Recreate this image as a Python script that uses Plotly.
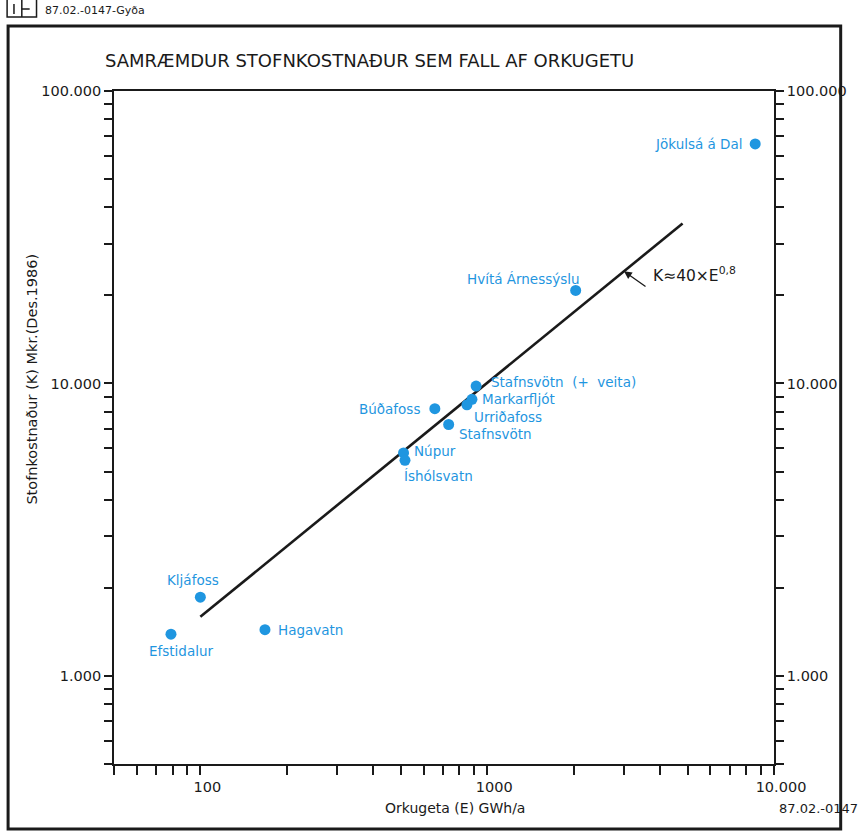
import numpy as np
import plotly.graph_objects as go

# Hydro power sites: annual energy (GWh/a) and capital cost (Mkr, Dec. 1986)
sites = ["Jökulsá á Dal", "Hvítá Árnessýslu", "Stafnsvötn\u00a0 (+\u00a0 veita)", "Markarfljót",
         "Urriðafoss", "Búðafoss", "Stafnsvötn", "Núpur", "Íshólsvatn",
         "Kljáfoss", "Efstidalur", "Hagavatn"]
energy_gwh = [8600, 2035, 915, 885, 850, 657, 734, 511, 517, 100, 79, 168]
cost_mkr = [65900, 20800, 9800, 8830, 8450, 8200, 7240, 5790, 5460, 1860, 1390, 1440]

# Fitted relation K ≈ 40 × E^0.8, drawn between these energies
fit_coef = 40
fit_exp = 0.8
fit_energy_range = [100, 4800]
arrow_energy = 3000

# Tick labels
x_ticks = [50, 60, 70, 80, 90, 100, 200, 300, 400, 500, 600, 700, 800, 900,
           1000, 2000, 3000, 4000, 5000, 6000, 7000, 8000, 9000, 10000]
x_labels = {100: "100", 1000: "1000", 10000: "10.000"}
y_ticks = [500, 600, 700, 800, 900, 1000, 2000, 3000, 4000, 5000, 6000, 7000, 8000, 9000,
           10000, 20000, 30000, 40000, 50000, 60000, 70000, 80000, 90000, 100000]
y_labels = {1000: "1.000", 10000: "10.000", 100000: "100.000"}

# Label placement relative to each dot (pixels) and anchor side
label_dx = [-10, 6, 13, 8, 5, -13, 8, 8, -3, -7, 11, 11]
label_dy = [0, 11, 4, 0, -12, 0, -9, 2, -16, 17, -17, 0]
label_anchor = ["right", "right", "left", "left", "left", "right", "left", "left",
                "left", "center", "center", "left"]

FONT = "DejaVu Sans"
BLUE = "#1f96e0"
INK = "#1a1a1a"

L, R, T, B = 114, 72, 91, 69
W, H = 859, 833
pw, ph = W - L - R, H - T - B


def px_x(px):
    return (px - L) / pw


def px_y(py):
    return (H - B - py) / ph


fig = go.Figure()

fit_e = np.logspace(np.log10(fit_energy_range[0]), np.log10(fit_energy_range[1]), 60)
fit_k = fit_coef * fit_e ** fit_exp
fig.add_trace(go.Scatter(x=fit_e, y=fit_k, mode="lines",
                         line=dict(color=INK, width=2.6), hoverinfo="skip"))

fig.add_trace(go.Scatter(x=energy_gwh, y=cost_mkr, mode="markers",
                         marker=dict(color=BLUE, size=11, line=dict(width=0)),
                         text=sites, hoverinfo="text"))

# right-hand axis carries the same scale
fig.add_trace(go.Scatter(x=[energy_gwh[0]], y=[cost_mkr[0]], yaxis="y2",
                         mode="markers", marker=dict(opacity=0), hoverinfo="skip"))

annotations = []
for name, e, k, dx, dy, anc in zip(sites, energy_gwh, cost_mkr, label_dx, label_dy, label_anchor):
    annotations.append(dict(x=np.log10(e), y=np.log10(k), xref="x", yref="y",
                            text=name, showarrow=False, xanchor=anc, yanchor="middle",
                            xshift=dx, yshift=dy,
                            font=dict(family=FONT, size=13.5, color=BLUE)))

k_arrow = fit_coef * arrow_energy ** fit_exp
annotations.append(dict(x=np.log10(arrow_energy), y=np.log10(k_arrow), xref="x", yref="y",
                        text=" ", showarrow=True, ax=24, ay=17, arrowhead=2, arrowsize=1.2,
                        arrowwidth=1.3, arrowcolor=INK, font=dict(size=8)))
annotations.append(dict(x=np.log10(arrow_energy), y=np.log10(k_arrow), xref="x", yref="y",
                        text="K≈40×E<sup>0,8</sup>", showarrow=False, xanchor="left",
                        yanchor="middle", xshift=27, yshift=-3,
                        font=dict(family=FONT, size=15.5, color=INK)))

annotations += [
    dict(x=px_x(103), y=px_y(61), xref="paper", yref="paper",
         text="SAMRÆMDUR STOFNKOSTNAÐUR SEM FALL AF ORKUGETU", showarrow=False,
         xanchor="left", yanchor="middle", font=dict(family=FONT, size=18, color=INK)),
    dict(x=px_x(462), y=px_y(808), xref="paper", yref="paper",
         text="Orkugeta (E) GWh/a", showarrow=False, xanchor="center", yanchor="middle",
         font=dict(family=FONT, size=14, color=INK)),
    dict(x=px_x(30), y=px_y(379), xref="paper", yref="paper",
         text="Stofnkostnaður (K) Mkr.(Des.1986)", showarrow=False, textangle=-90,
         xanchor="center", yanchor="middle", font=dict(family=FONT, size=14.5, color=INK)),
    dict(x=px_x(790), y=px_y(808), xref="paper", yref="paper",
         text="87.02.-0147", showarrow=False, xanchor="left", yanchor="middle",
         font=dict(family=FONT, size=13, color=INK)),
    dict(x=px_x(42), y=px_y(11), xref="paper", yref="paper",
         text="87.02.-0147-Gyða", showarrow=False, xanchor="left", yanchor="middle",
         font=dict(family=FONT, size=11, color=INK)),
]

shapes = [
    # outer drawing frame
    dict(type="rect", xref="paper", yref="paper",
         x0=px_x(6), x1=px_x(855), y0=px_y(829), y1=px_y(26),
         line=dict(color=INK, width=3)),
    # small logo box in the header
    dict(type="rect", xref="paper", yref="paper",
         x0=px_x(5), x1=px_x(35), y0=px_y(17), y1=px_y(-2),
         line=dict(color=INK, width=1.5)),
    dict(type="line", xref="paper", yref="paper",
         x0=px_x(20), x1=px_x(20), y0=px_y(17), y1=px_y(-2),
         line=dict(color=INK, width=1.5)),
    dict(type="line", xref="paper", yref="paper",
         x0=px_x(12), x1=px_x(12), y0=px_y(14), y1=px_y(4),
         line=dict(color=INK, width=1.5)),
    dict(type="line", xref="paper", yref="paper",
         x0=px_x(20), x1=px_x(28), y0=px_y(9), y1=px_y(9),
         line=dict(color=INK, width=1.5)),
]

axis_common = dict(type="log", showline=True, linecolor=INK, linewidth=1.8,
                   ticks="outside", ticklen=8, tickwidth=1.5, tickcolor=INK,
                   showgrid=False, zeroline=False,
                   tickfont=dict(family=FONT, size=14.5, color=INK))

fig.update_layout(
    width=W, height=H,
    margin=dict(l=L, r=R, t=T, b=B),
    paper_bgcolor="white", plot_bgcolor="white",
    showlegend=False,
    xaxis=dict(range=[np.log10(50), 4], mirror=True, tickvals=x_ticks,
               ticktext=[x_labels.get(v, "") for v in x_ticks], ticklabelshift=7,
               **{**axis_common, "ticklen": 9}),
    yaxis=dict(range=[np.log10(500), 5], tickvals=y_ticks,
               ticktext=[y_labels.get(v, "") for v in y_ticks], **axis_common),
    yaxis2=dict(range=[np.log10(500), 5], overlaying="y", side="right", anchor="x",
                tickvals=y_ticks, ticktext=[y_labels.get(v, "") for v in y_ticks],
                **axis_common),
    annotations=annotations,
    shapes=shapes,
)

fig.write_html("out.html")
